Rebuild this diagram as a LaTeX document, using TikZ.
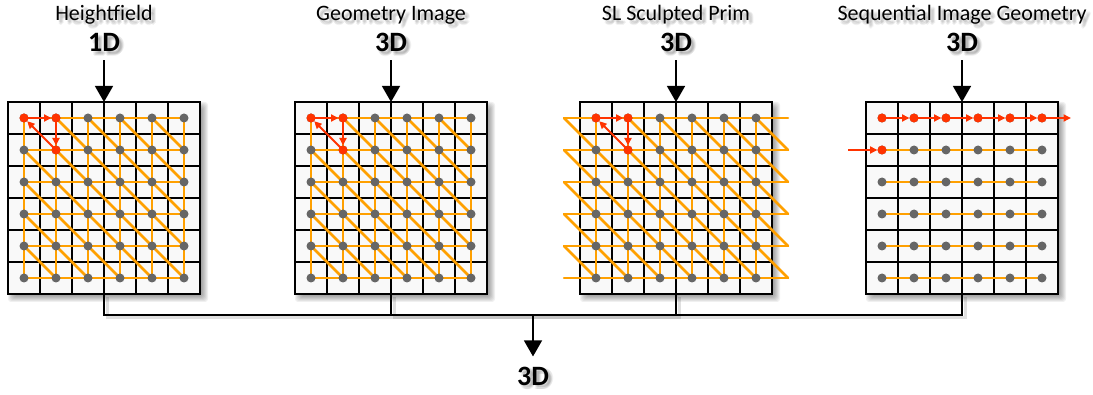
\documentclass[tikz,border=0pt]{standalone}
\usepackage{fontspec}
\setmainfont{Carlito}
\usetikzlibrary{arrows.meta}
\definecolor{orng}{RGB}{255,160,0}
\definecolor{redo}{RGB}{255,51,0}
\definecolor{dotg}{RGB}{102,102,102}
\definecolor{cellbg}{RGB}{249,249,249}
\tikzset{
  gridbox/.style={draw=black, line width=1.6pt, fill=cellbg, minimum width=192pt, minimum height=192pt, inner sep=0pt, outer sep=0pt},
  gridline/.style={black, line width=1.1pt},
  orline/.style={orng, line width=2.5pt, line cap=round},
  redarr/.style={redo, line width=1.8pt, -{Triangle[width=7pt,length=7.5pt]}, shorten >=4.5pt},
  bigarr/.style={black, line width=1.4pt, -{Triangle[width=18pt,length=16pt]}},
  conn/.style={black, line width=1.2pt},
  titletxt/.style={font=\fontsize{22}{24}\selectfont, anchor=base, inner sep=0pt},
  dimtxt/.style={font=\fontsize{28}{30}\selectfont\bfseries, anchor=base, inner sep=0pt},
  gdot/.style={dotg},
  rdot/.style={redo},
}
\newcommand\drawgrid[2]{%
  \foreach \k in {0,...,7}
    \fill[black,opacity=0.06,rounded corners=3pt] ({#1+\k},{102+\k}) rectangle ({#1+200-\k},{302-\k});
  \node[gridbox, anchor=north west] (#2) at (#1,102) {};
  \foreach \i in {1,...,5} {
    \draw[gridline] ({#1+32*\i},102) -- ({#1+32*\i},294);
    \draw[gridline] (#1,{102+32*\i}) -- ({#1+192},{102+32*\i});
  }
  \draw[black, line width=1.6pt] (#1,102) rectangle ({#1+192},294);
  \foreach \c in {0,...,5} \foreach \r in {0,...,5}
    \coordinate (#2-\c-\r) at ({#1+16+32*\c},{118+32*\r});
}
\newcommand\mesh[4]{%
  \foreach \r in {0,...,5}
    \draw[orline] ({#1+16+32*(#2)},{118+32*\r}) -- ({#1+16+32*(#3)},{118+32*\r});
  \foreach \c in {0,...,5}
    \draw[orline] ({#1+16+32*\c},118) -- ({#1+16+32*\c},278);
  \foreach \c in {#2,...,#4} \foreach \r in {0,...,4} {
    \pgfmathtruncatemacro\mysk{and(\c==0,\r==0)}
    \ifnum\mysk=0 \draw[orline] ({#1+16+32*\c},{118+32*\r}) -- ({#1+48+32*\c},{150+32*\r});\fi
  }
}
\newcommand\grdots[1]{%
  \foreach \c in {0,...,5} \foreach \r in {0,...,5}
    \fill[gdot] (#1-\c-\r) circle (4.5pt);
}
\newcommand\redtri[1]{%
  \draw[redarr] (#1-0-0) -- (#1-1-0);
  \draw[redarr] (#1-1-0) -- (#1-1-1);
  \draw[redarr] (#1-1-1) -- (#1-0-0);
  \fill[rdot] (#1-0-0) circle (4.5pt);
  \fill[rdot] (#1-1-0) circle (4.5pt);
  \fill[rdot] (#1-1-1) circle (4.5pt);
}
\newcommand\shtext[3]{%
  \foreach \dx/\dy in {2/2,3/3,4/4,2/4,4/2,3/5,5/3}
    \node[#1, text=black, opacity=0.05, xshift=\dx pt, yshift=-\dy pt] at (#2) {#3};
}
\begin{document}
\begin{tikzpicture}[x=1pt,y=-1pt]
\useasboundingbox (0,0) rectangle (1093,395);

% grids
\drawgrid{8}{g1}
\drawgrid{295}{g2}
\drawgrid{580}{g3}
\drawgrid{866}{g4}

% meshes
\mesh{8}{0}{5}{4}
\grdots{g1}
\redtri{g1}

\mesh{295}{0}{5}{4}
\grdots{g2}
\redtri{g2}

\mesh{580}{-1}{6}{5}
\grdots{g3}
\redtri{g3}

% sequential image geometry
\foreach \r in {1,...,5}
  \draw[orline] (g4-0-\r) -- (g4-5-\r);
\grdots{g4}
\coordinate (g4out) at (1071,118);
\coordinate (g4in) at (848,150);
\foreach \c [evaluate=\c as \n using int(\c+1)] in {0,...,4}
  \draw[redarr] (g4-\c-0) -- (g4-\n-0);
\draw[redarr, shorten >=0pt] (g4-5-0) -- (g4out);
\draw[redarr] (g4in) -- (g4-0-1);
\foreach \c in {0,...,5}
  \fill[rdot] (g4-\c-0) circle (4.5pt);
\fill[rdot] (g4-0-1) circle (4.5pt);

% text shadows
\shtext{titletxt}{104,21}{Heightfield}
\shtext{dimtxt}{104,52}{1D}
\shtext{titletxt}{391,21}{Geometry Image}
\shtext{dimtxt}{391,52}{3D}
\shtext{titletxt}{676,21}{SL Sculpted Prim}
\shtext{dimtxt}{676,52}{3D}
\shtext{titletxt}{962,21}{Sequential Image Geometry}
\shtext{dimtxt}{962,52}{3D}
\shtext{dimtxt}{533,385}{3D}

% titles
\node[titletxt] (t1) at (104,21) {Heightfield};
\node[dimtxt] (d1) at (104,52) {1D};
\node[titletxt] (t2) at (391,21) {Geometry Image};
\node[dimtxt] (d2) at (391,52) {3D};
\node[titletxt] (t3) at (676,21) {SL Sculpted Prim};
\node[dimtxt] (d3) at (676,52) {3D};
\node[titletxt] (t4) at (962,21) {Sequential Image Geometry};
\node[dimtxt] (d4) at (962,52) {3D};
\node[dimtxt] (out) at (533,385) {3D};

\foreach \i in {1,2,3,4}
  \draw[bigarr] ([yshift=-8pt]d\i.south) -- (g\i.north);

% bottom bus
\coordinate (bus) at (533,315);
\foreach \i in {1,2,3,4}
  \draw[black, opacity=0.12, line width=3pt] ([xshift=3pt,yshift=-3pt]g\i.south) |- ([xshift=3pt,yshift=-3pt]bus);
\foreach \i in {1,2,3,4}
  \draw[conn] (g\i.south) |- (bus);
\draw[bigarr, shorten >=10pt] (bus) -- (out.north);
\end{tikzpicture}
\end{document}
